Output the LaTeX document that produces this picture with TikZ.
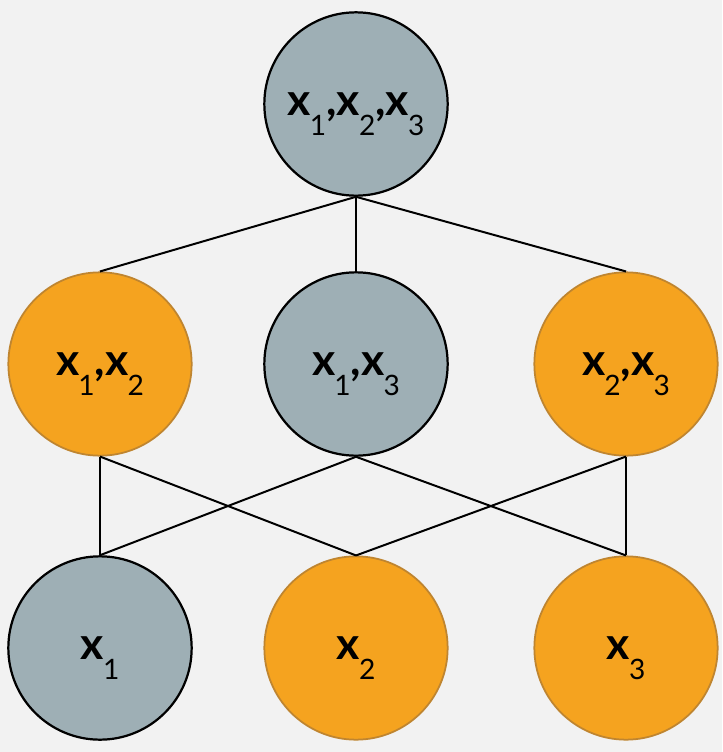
\documentclass[tikz,border=0pt]{standalone}
\usepackage{fontspec}
\setmainfont{Lato}
\usepackage{tikz}

\definecolor{bgcol}{HTML}{F2F2F2}
\definecolor{slate}{HTML}{9EAFB5}
\definecolor{amber}{HTML}{F5A31F}
\definecolor{amberline}{HTML}{BF8530}

\newcommand{\xv}[1]{x\kern-0.02em\smash{\raisebox{-0.44em}{\fontsize{24}{24}\selectfont\mdseries #1}}}

\tikzset{
  setnode/.style={circle, minimum size=5.5cm, inner sep=0pt, text depth=0pt,
    font=\fontsize{38}{42}\selectfont\bfseries},
  grayset/.style={setnode, fill=slate, draw=black, line width=1.9pt},
  orangeset/.style={setnode, fill=amber, draw=amberline, line width=1.5pt},
  link/.style={draw=black, line width=1.7pt}
}

\begin{document}
\begin{tikzpicture}[x=0.03cm, y=-0.03cm]
            \path[fill=bgcol] (0,0) rectangle (722,752);

            \node[grayset] (top) at (356,104) {\xv{1},\xv{2},\xv{3}};

            \node[orangeset] (l12) at (100,364) {\xv{1},\xv{2}};
            \node[grayset] (l13) at (356,364) {\xv{1},\xv{3}};
            \node[orangeset] (l23) at (626,364) {\xv{2},\xv{3}};

            \node[grayset] (s1) at (100,648) {\xv{1}};
            \node[orangeset] (s2) at (356,648) {\xv{2}};
            \node[orangeset] (s3) at (626,648) {\xv{3}};

            \draw[link] (top.south) -- (l12.north);
            \draw[link] (top.south) -- (l13.north);
            \draw[link] (top.south) -- (l23.north);

            \draw[link] (l12.south) -- (s1.north);
            \draw[link] (l12.south) -- (s2.north);
            \draw[link] (l13.south) -- (s1.north);
            \draw[link] (l13.south) -- (s3.north);
            \draw[link] (l23.south) -- (s2.north);
            \draw[link] (l23.south) -- (s3.north);
        \end{tikzpicture}
\end{document}
